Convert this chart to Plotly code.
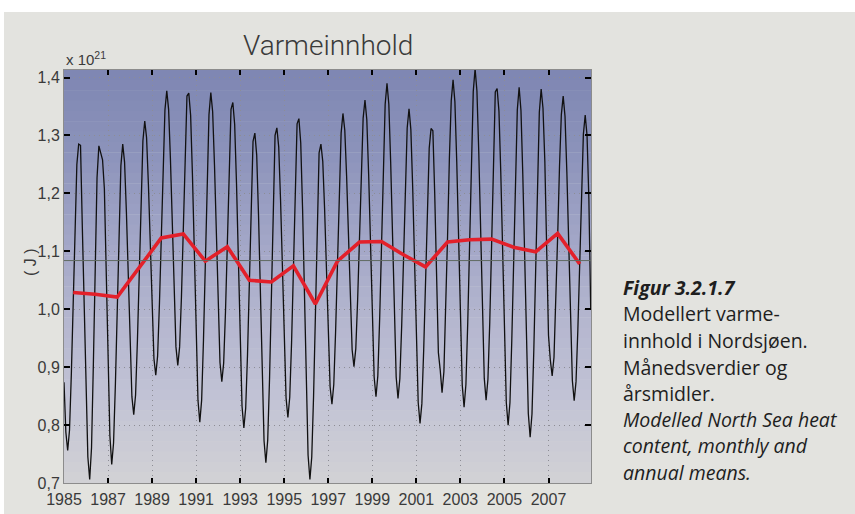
import plotly.graph_objects as go

# ---------------- data ----------------
start_year = 1985
monthly_1985 = [0.874, 0.788, 0.756, 0.791, 0.888, 1.021, 1.153, 1.250, 1.285, 1.283, 1.140, 0.996]
monthly_1986 = [0.851, 0.745, 0.706, 0.761, 0.905, 1.083, 1.227, 1.282, 1.270, 1.258, 1.208, 1.077]
monthly_1987 = [0.913, 0.782, 0.732, 0.769, 0.870, 1.009, 1.147, 1.248, 1.285, 1.254, 1.168, 1.052]
monthly_1988 = [0.935, 0.849, 0.818, 0.852, 0.945, 1.072, 1.198, 1.291, 1.325, 1.296, 1.215, 1.106]
monthly_1989 = [0.996, 0.915, 0.886, 0.919, 1.009, 1.132, 1.254, 1.344, 1.377, 1.345, 1.259, 1.140]
monthly_1990 = [1.022, 0.935, 0.903, 0.935, 1.021, 1.138, 1.256, 1.368, 1.373, 1.335, 1.231, 1.089]
monthly_1991 = [0.947, 0.843, 0.805, 0.843, 0.947, 1.090, 1.232, 1.336, 1.374, 1.341, 1.249, 1.125]
monthly_1992 = [1.000, 0.908, 0.875, 0.907, 0.996, 1.116, 1.237, 1.345, 1.357, 1.319, 1.217, 1.076]
monthly_1993 = [0.936, 0.833, 0.795, 0.829, 0.922, 1.050, 1.177, 1.290, 1.304, 1.266, 1.162, 1.020]
monthly_1994 = [0.877, 0.773, 0.735, 0.774, 0.880, 1.024, 1.169, 1.300, 1.313, 1.280, 1.188, 1.063]
monthly_1995 = [0.938, 0.847, 0.813, 0.848, 0.942, 1.071, 1.200, 1.320, 1.329, 1.287, 1.173, 1.018]
monthly_1996 = [0.862, 0.748, 0.706, 0.745, 0.851, 0.996, 1.140, 1.270, 1.285, 1.255, 1.173, 1.061]
monthly_1997 = [0.948, 0.866, 0.836, 0.870, 0.962, 1.087, 1.213, 1.304, 1.338, 1.309, 1.229, 1.120]
monthly_1998 = [1.010, 0.930, 0.901, 0.932, 1.016, 1.131, 1.246, 1.330, 1.361, 1.327, 1.233, 1.105]
monthly_1999 = [0.977, 0.883, 0.849, 0.885, 0.984, 1.120, 1.255, 1.354, 1.390, 1.354, 1.254, 1.118]
monthly_2000 = [0.982, 0.883, 0.846, 0.880, 0.971, 1.096, 1.221, 1.313, 1.346, 1.310, 1.210, 1.075]
monthly_2001 = [0.939, 0.839, 0.803, 0.837, 0.930, 1.058, 1.185, 1.278, 1.312, 1.308, 1.200, 1.060]
monthly_2002 = [0.925, 0.895, 0.856, 0.892, 0.991, 1.126, 1.261, 1.360, 1.396, 1.358, 1.255, 1.114]
monthly_2003 = [0.972, 0.869, 0.831, 0.870, 0.977, 1.123, 1.269, 1.376, 1.415, 1.377, 1.272, 1.129]
monthly_2004 = [0.986, 0.881, 0.843, 0.879, 0.978, 1.112, 1.247, 1.375, 1.381, 1.342, 1.236, 1.091]
monthly_2005 = [0.945, 0.839, 0.800, 0.839, 0.946, 1.092, 1.237, 1.344, 1.383, 1.343, 1.232, 1.081]
monthly_2006 = [0.930, 0.820, 0.779, 0.819, 0.929, 1.080, 1.230, 1.340, 1.380, 1.347, 1.256, 1.110]
monthly_2007 = [0.955, 0.912, 0.885, 0.917, 1.006, 1.127, 1.247, 1.336, 1.368, 1.333, 1.237, 1.105]
monthly_2008 = [0.974, 0.877, 0.842, 0.875, 0.965, 1.089, 1.212, 1.302, 1.335, 1.300, 1.190, 1.001]

annual_years = list(range(1985, 2009))
annual_means = [1.029, 1.026, 1.021, 1.073, 1.123, 1.130, 1.083, 1.108, 1.050, 1.047, 1.075, 1.009,
                1.083, 1.116, 1.117, 1.094, 1.073, 1.116, 1.120, 1.121, 1.107, 1.099, 1.131, 1.078]
overall_mean = 1.084

x_tick_years = list(range(1985, 2008, 2))
y_tick_vals = [0.7, 0.8, 0.9, 1.0, 1.1, 1.2, 1.3, 1.4]
y_tick_text = ["0,7", "0,8", "0,9", "1,0", "1,1", "1,2", "1,3", "1,4"]

title_text = "Varmeinnhold"
unit_text = "( J )"
exponent_text = "x 10<sup>21</sup>"
caption_lines = [
    "<b><i>Figur 3.2.1.7</i></b>",
    "Modellert varme-",
    "innhold i Nordsjøen.",
    "Månedsverdier og",
    "årsmidler.",
    "<i>Modelled North Sea heat</i>",
    "<i>content, monthly and</i>",
    "<i>annual means.</i>",
]

# ---------------- assemble ----------------
monthly_all = (monthly_1985 + monthly_1986 + monthly_1987 + monthly_1988 + monthly_1989 + monthly_1990 +
               monthly_1991 + monthly_1992 + monthly_1993 + monthly_1994 + monthly_1995 + monthly_1996 +
               monthly_1997 + monthly_1998 + monthly_1999 + monthly_2000 + monthly_2001 + monthly_2002 +
               monthly_2003 + monthly_2004 + monthly_2005 + monthly_2006 + monthly_2007 + monthly_2008)
month_x = [start_year + i / 12 for i in range(len(monthly_all))]
annual_x = [y + 5 / 12 for y in annual_years]

W, H = 855, 514
L, R, T, B = 64, 264, 70, 31
PW, PH = W - L - R, H - T - B


def px_x(x):
    return (x - L) / PW


def px_y(y):
    return (H - B - y) / PH


fig = go.Figure()
fig.add_trace(go.Scatter(x=month_x, y=monthly_all, mode="lines",
                         line=dict(color="#111111", width=1.3), hoverinfo="skip"))
fig.add_trace(go.Scatter(x=annual_x, y=annual_means, mode="lines",
                         line=dict(color="#e3202a", width=3.6), hoverinfo="skip"))

shapes = []
# page outer white strips
shapes.append(dict(type="rect", xref="paper", yref="paper", x0=px_x(0), x1=px_x(W), y0=px_y(12), y1=px_y(0),
                   fillcolor="white", line=dict(width=0), layer="below"))
shapes.append(dict(type="rect", xref="paper", yref="paper", x0=px_x(0), x1=px_x(4), y0=px_y(H), y1=px_y(0),
                   fillcolor="white", line=dict(width=0), layer="below"))

# plot-area gradient (top bluish -> bottom grey)
anchors = [(0.0, (126, 134, 178)), (0.2, (140, 147, 187)), (0.4, (161, 165, 198)),
           (0.6, (180, 182, 207)), (0.8, (194, 195, 213)), (1.0, (210, 210, 213))]
nb = 40
for i in range(nb):
    t = (i + 0.5) / nb
    for j in range(len(anchors) - 1):
        if anchors[j][0] <= t <= anchors[j + 1][0]:
            a, b = anchors[j], anchors[j + 1]
            f = (t - a[0]) / (b[0] - a[0])
            c = tuple(int(round(a[1][k] + f * (b[1][k] - a[1][k]))) for k in range(3))
            break
    shapes.append(dict(type="rect", xref="paper", yref="paper", x0=0, x1=1,
                       y0=1 - (i + 1) / nb, y1=1 - i / nb + 0.001,
                       fillcolor="rgb(%d,%d,%d)" % c, line=dict(width=0), layer="below"))

# overall mean line
shapes.append(dict(type="line", xref="paper", yref="y", x0=0, x1=1, y0=overall_mean, y1=overall_mean,
                   line=dict(color="#5f6a62", width=1), layer="above"))

tick_font = dict(family="Liberation Sans Narrow, Arial Narrow, sans-serif", size=16, color="#3a3a3a")
grid_style = dict(showgrid=True, gridcolor="#8d8d95", griddash="1px,4px", gridwidth=1)

fig.update_layout(
    width=W, height=H, autosize=False,
    margin=dict(l=L, r=R, t=T, b=B, pad=0),
    paper_bgcolor="#e3e3df",
    plot_bgcolor="rgba(0,0,0,0)",
    showlegend=False,
    shapes=shapes,
    xaxis=dict(range=[1985, 2008.93], tickmode="array", tickvals=x_tick_years,
               ticktext=[str(v) for v in x_tick_years],
               ticks="inside", ticklen=5, tickwidth=2, tickcolor="black",
               showline=True, linecolor="#8c8c8c", linewidth=1, mirror="ticks",
               zeroline=False, tickfont=tick_font, fixedrange=True, ticklabelstandoff=2,
               automargin=False, **grid_style),
    yaxis=dict(range=[0.7, 1.413], tickmode="array", tickvals=y_tick_vals, ticktext=y_tick_text,
               ticks="inside", ticklen=6, tickwidth=2, tickcolor="black",
               showline=True, linecolor="#8c8c8c", linewidth=1, mirror="ticks",
               zeroline=False, tickfont=tick_font, fixedrange=True, automargin=False, **grid_style),
)

ann = []
ann.append(dict(text=title_text, xref="paper", yref="paper", x=0.5, y=px_y(45), xanchor="center",
                yanchor="middle", showarrow=False,
                font=dict(family="Roboto, Liberation Sans, sans-serif", size=28, color="#3a3a3a", weight=300)))
ann.append(dict(text=exponent_text, xref="paper", yref="paper", x=px_x(64), y=px_y(59), xanchor="left",
                yanchor="middle", showarrow=False, font=dict(family="Liberation Sans Narrow, sans-serif",
                                                             size=15, color="#3a3a3a")))
ann.append(dict(text=unit_text, xref="paper", yref="paper", x=px_x(30), y=px_y(262), xanchor="center",
                yanchor="middle", textangle=-90, showarrow=False,
                font=dict(family="Liberation Sans Narrow, sans-serif", size=16, color="#3a3a3a")))
cap_y = [287, 313, 340, 367, 393, 419, 445, 472]
for txt, yy in zip(caption_lines, cap_y):
    ann.append(dict(text=txt, xref="paper", yref="paper", x=px_x(621), y=px_y(yy), xanchor="left",
                    yanchor="middle", showarrow=False,
                    font=dict(family="Open Sans, sans-serif", size=19.5, color="#1e1e1e")))
fig.update_layout(annotations=ann)

fig.write_html("out.html", post_script="document.body.style.margin='0';",
               config={"displayModeBar": False})
